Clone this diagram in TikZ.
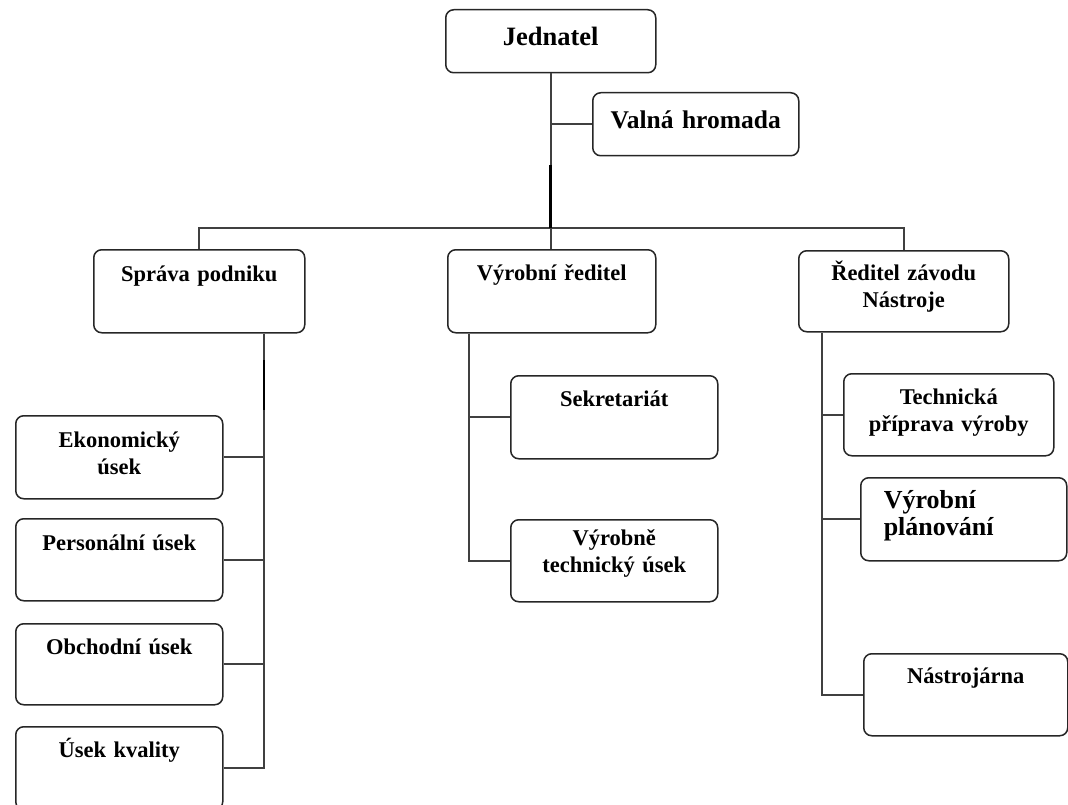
\documentclass[tikz,border=0pt]{standalone}
\usepackage{fontspec}
\setmainfont{Liberation Serif}

\tikzset{
  unit/.style={draw=black!85,line width=1.5pt,rounded corners=8pt,fill=white,
    inner sep=0pt,anchor=north west,align=center,text width=207pt,
    text height=31pt,text depth=52pt,font=\bfseries\fontsize{22.5}{27}\selectfont},
  link/.style={draw=black!75,line width=1.6pt},
  thickbar/.style={draw=black,line width=2.8pt}
}

\begin{document}
\begin{tikzpicture}[x=1pt,y=-1pt]
        \useasboundingbox (0,0) rectangle (1068,805);
        \clip (0,0) rectangle (1068,805);

        % top
        \node[unit,text width=210pt,text height=36pt,text depth=27pt,font=\bfseries\fontsize{26.5}{30}\selectfont](jed)at(445,9){Jednatel};
        \node[unit,text width=206pt,text height=36pt,text depth=27pt,font=\bfseries\fontsize{25.5}{30}\selectfont](valna)at(592,92){Valná hromada};

        % second level
        \node[unit,text width=211pt,text height=32pt,text depth=51pt](sprava)at(93,249){Správa podniku};
        \node[unit,text width=208pt](vyrred)at(447,249){Výrobní ředitel};
        \node[unit,text width=210pt,text height=30pt,text depth=51pt](redzav)at(798,250){Ředitel závodu\\Nástroje};

        % Sprava podniku
        \node[unit,text height=32pt,text depth=51pt](ekon)at(15,415){Ekonomický\\úsek};
        \node[unit,text height=32pt,text depth=50pt](pers)at(15,518){Personální úsek};
        \node[unit,text depth=50pt](obch)at(15,623){Obchodní úsek};
        \node[unit](kval)at(15,726){Úsek kvality};

        % Vyrobni reditel
        \node[unit](sekr)at(510,375){Sekretariát};
        \node[unit,text height=26pt,text depth=56pt](vtu)at(510,519){Výrobně\\technický úsek};

        % Reditel zavodu
        \node[unit,text width=210pt,text depth=51pt](tech)at(843,373){Technická\\příprava výroby};
        \node[unit,text width=160pt,inner xsep=23pt,align=left,font=\bfseries\fontsize{26}{27}\selectfont](plan)at(860,477){Výrobní\\plánování};
        \node[unit,text width=204pt,text height=30pt,text depth=52pt](nastr)at(863,653){Nástrojárna};

        % connectors
        \coordinate(hub)at(jed.south |- 0,228);
        \draw[link](jed.south)--(jed.south |- vyrred.north);
        \draw[link](valna.west)--(valna.west -| jed.south);
        \draw[link](sprava.north)|-(hub)-|(redzav.north);
        \draw[thickbar](jed.south |- 0,165)--(hub);

        \coordinate(spbus)at(sprava.south -| 264,0);
        \draw[link](spbus)|-(kval.east);
        \foreach \n in {ekon,pers,obch} \draw[link](\n.east)--(\n.east -| spbus);
        \draw[thickbar](spbus |- 0,360)--(spbus |- 0,410);

        \coordinate(vrbus)at(vyrred.south -| 469,0);
        \draw[link](vrbus)|-(vtu.west);
        \draw[link](sekr.west)--(sekr.west -| vrbus);

        \coordinate(rdbus)at(redzav.south -| 822,0);
        \draw[link](rdbus)|-(nastr.west);
        \foreach \n in {tech,plan} \draw[link](\n.west)--(\n.west -| rdbus);
\end{tikzpicture}
\end{document}
